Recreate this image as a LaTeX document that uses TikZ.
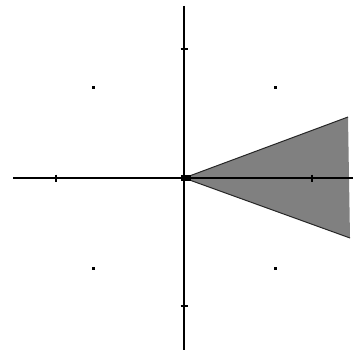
\documentclass[tikz,border=0pt]{standalone}
\begin{document}
\begin{tikzpicture}[x=1pt,y=-1pt,
  axis/.style={line width=1.8pt,black},
  tick/.style={line width=1.3pt,black},
  pt/.style={fill=black}]
\useasboundingbox (0,0) rectangle (353,353);
\coordinate (O) at (184,178);
\coordinate (L) at (13,178);
\coordinate (R) at (353,178);
\coordinate (T) at (184,6);
\coordinate (B) at (184,350);
\coordinate (W1) at (348,117);
\coordinate (W2) at (350,238);
% wedge
\fill[black!50] (O) -- (W1) -- (W2) -- cycle;
\draw[line width=1pt,black!85] (W1) -- (O) -- (W2);
% axes
\draw[axis] (L) -- (R);
\draw[axis] (T) -- (B);
% ticks
\draw[tick] (56,174.5) -- (56,181.5);
\draw[tick] (312,174.5) -- (312,181.5);
\draw[tick] (180.5,49) -- (187.5,49);
\draw[tick] (180.5,306) -- (187.5,306);
% origin blob
\fill[black] (181,175) rectangle (191,181);
% dots
\fill[pt] (91.5,85.5) rectangle (95,89);
\fill[pt] (273.5,85.5) rectangle (277,89);
\fill[pt] (91.5,266.5) rectangle (95,270);
\fill[pt] (273.5,266.5) rectangle (277,270);
\end{tikzpicture}
\end{document}
